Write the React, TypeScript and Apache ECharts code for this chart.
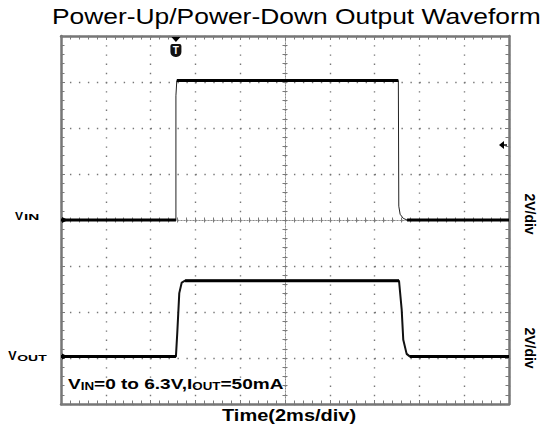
import React, { useEffect, useRef } from "react";
import * as echarts from "echarts";

// Horizontal: time in ms, 2 ms/div, screen centre = 0
const timeMin = -10;
const timeMax = 10;
const timeStep = 2;
// Vertical: divisions
const divMin = -4;
const divMax = 4;
const voltsPerDiv = 2;

// Channel 1: VIN (ground reference at 0 div)
const vinOffsetDiv = 0;
const vinTime = [-10, -4.87, -4.87, -4.83, 5.06, 5.08, 5.14, 5.28, 5.45, 10];
const vinVolt = [0, 0, 5.4, 6.06, 6.06, 0.6, 0.25, 0.07, 0, 0];

// Channel 2: VOUT (ground reference at -2.97 div)
const voutOffsetDiv = -2.97;
const voutTime = [-10, -4.87, -4.81, -4.72, -4.61, -4.46, 5.09, 5.21, 5.28, 5.43, 5.58, 10];
const voutVolt = [0, 0, 1.02, 2.76, 3.22, 3.3, 3.3, 2.03, 0.73, 0.12, 0, 0];

// Trigger
const trigTime = -4.87;
const trigLevelVolt = 3.26;

const titleText = "Power-Up/Power-Down Output Waveform";
const xAxisTitle = "Time(2ms/div)";
const scaleText = "2V/div";

const toDiv = (v: number, off: number) => off + v / voltsPerDiv;

const tracePoints = (t: number[], v: number[], off: number) =>
  t.map((ti, i) => [ti, toDiv(v[i], off)]);

const flatSegments = (t: number[], v: number[], off: number) => {
  const segs: number[][][] = [];
  for (let i = 0; i < t.length - 1; i++) {
    if (v[i] === v[i + 1]) {
      segs.push([
        [t[i], toDiv(v[i], off)],
        [t[i + 1], toDiv(v[i + 1], off)],
      ]);
    }
  }
  return segs;
};

const FRAME = "#767676";
const TICK = "#7a7a7a";
const GRID = "#777777";

const edgeAxis = (pos: string, split: boolean, gap: number, min: number, max: number, step: number) => ({
  type: "value",
  min,
  max,
  interval: step,
  position: pos,
  axisLine: { show: true, onZero: false, lineStyle: { color: FRAME, width: 2.5 } },
  axisTick: { show: true, inside: true, length: 4, lineStyle: { color: TICK, width: 1 } },
  minorTick: { show: true, splitNumber: 5, length: 3.5, lineStyle: { color: TICK, width: 1 } },
  axisLabel: { show: false },
  splitLine: { show: split, lineStyle: { color: GRID, width: 1.4, type: [1.4, gap] } },
  minorSplitLine: { show: false },
});

const centerAxis = (pos: string, inside: boolean, min: number, max: number, step: number) => ({
  type: "value",
  min,
  max,
  interval: step,
  position: pos,
  axisLine: { show: true, onZero: true, lineStyle: { color: "#8a8a8a", width: 1, type: [1, 2] } },
  axisTick: { show: true, inside, length: 2.5, lineStyle: { color: TICK, width: 1 } },
  minorTick: { show: true, splitNumber: 5, length: 2.5, lineStyle: { color: TICK, width: 1 } },
  axisLabel: { show: false },
  splitLine: { show: false },
});

export default function App() {
  const ref = useRef<HTMLDivElement>(null);
  useEffect(() => {
    const chart = echarts.init(ref.current!, undefined, { renderer: "svg" });
    const hGap = 448 / 50 - 1.4; // dots every minor division (horizontal lines)
    const vGap = 368 / 40 - 1.4; // dots every minor division (vertical lines)

    const series: any[] = [];
    series.push({
      type: "line",
      name: "VIN",
      data: tracePoints(vinTime, vinVolt, vinOffsetDiv),
      showSymbol: false,
      lineStyle: { color: "#222", width: 1 },
      z: 3,
    });
    flatSegments(vinTime, vinVolt, vinOffsetDiv).forEach((seg) =>
      series.push({ type: "line", data: seg, showSymbol: false, lineStyle: { color: "#000", width: 3 }, z: 4 })
    );
    series.push({
      type: "line",
      name: "VOUT",
      data: tracePoints(voutTime, voutVolt, voutOffsetDiv),
      showSymbol: false,
      lineStyle: { color: "#111", width: 2 },
      z: 3,
    });
    flatSegments(voutTime, voutVolt, voutOffsetDiv).forEach((seg) =>
      series.push({ type: "line", data: seg, showSymbol: false, lineStyle: { color: "#000", width: 3 }, z: 4 })
    );

    chart.setOption({
      animation: false,
      backgroundColor: "#fff",
      grid: { left: 61, top: 36, width: 448, height: 368 },
      xAxis: [
        edgeAxis("bottom", true, vGap, timeMin, timeMax, timeStep),
        edgeAxis("top", false, vGap, timeMin, timeMax, timeStep),
        centerAxis("bottom", true, timeMin, timeMax, timeStep),
        centerAxis("bottom", false, timeMin, timeMax, timeStep),
      ],
      yAxis: [
        edgeAxis("left", true, hGap, divMin, divMax, 1),
        edgeAxis("right", false, hGap, divMin, divMax, 1),
        centerAxis("left", true, divMin, divMax, 1),
        centerAxis("left", false, divMin, divMax, 1),
      ],
      series,
    });

    const px = (t: number, d: number) =>
      chart.convertToPixel({ xAxisIndex: 0, yAxisIndex: 0 }, [t, d]) as number[];
    const top = px(timeMin, divMax);
    const right = px(timeMax, divMax)[0];
    const left = top[0];
    const tx = px(trigTime, divMax)[0];
    const trigY = px(timeMax, toDiv(trigLevelVolt, vinOffsetDiv))[1];
    const vinY = px(timeMin, vinOffsetDiv)[1];
    const voutY = px(timeMin, voutOffsetDiv)[1];

    const txt = (text: string, x: number, y: number, size: number, weight: string, scaleX = 1, align = "left", extra: any = {}) => ({
      type: "text",
      x,
      y,
      scaleX,
      z: 10,
      style: {
        text,
        fontFamily: "Liberation Sans, Arial, sans-serif",
        fontSize: size,
        fontWeight: weight,
        fill: "#000",
        align,
        verticalAlign: "middle",
        textAlign: align,
        textVerticalAlign: "middle",
      },
      ...extra,
    });

    chart.setOption({
      graphic: [
        txt(titleText, 52, 16, 22, "normal", 1.2),
        txt(xAxisTitle, 222, 416, 16, "bold", 1.25),
        // channel labels
        txt("V", 15, vinY - 4, 11.5, "bold", 1.05),
        txt("IN", 24, vinY - 3, 8.5, "bold", 1.8),
        txt("V", 8.3, voutY - 1, 12.5, "bold", 1.0),
        txt("OUT", 17.3, voutY + 0.5, 8.8, "bold", 1.58),
        // scale labels
        txt(scaleText, 530, 214, 14, "bold", 1, "center", { rotation: -Math.PI / 2 }),
        txt(scaleText, 530, 348, 14, "bold", 1, "center", { rotation: -Math.PI / 2 }),
        // annotation
        {
          type: "text",
          x: 68,
          y: 384,
          scaleX: 1.27,
          z: 10,
          style: {
            text: "{a|V}{b|IN}{a|=0 to 6.3V,I}{b|OUT}{a|=50mA}",
            fontFamily: "Liberation Sans, Arial, sans-serif",
            fontWeight: "bold",
            fill: "#000",
            align: "left",
            verticalAlign: "middle",
            rich: {
              a: { fontSize: 15, fontWeight: "bold", fontFamily: "Liberation Sans, Arial, sans-serif", fill: "#000", verticalAlign: "bottom" },
              b: { fontSize: 10.5, fontWeight: "bold", fontFamily: "Liberation Sans, Arial, sans-serif", fill: "#000", verticalAlign: "bottom" },
            },
          },
        },
        // trigger marker (top)
        {
          type: "polygon",
          z: 10,
          shape: { points: [[tx - 4.5, top[1] + 1], [tx + 4.5, top[1] + 1], [tx, top[1] + 6]] },
          style: { fill: "#000" },
        },
        {
          type: "rect",
          z: 10,
          shape: { x: tx - 5.5, y: top[1] + 8, width: 11, height: 13, r: [2, 2, 5, 5] },
          style: { fill: "#111" },
        },
        {
          type: "text",
          x: tx,
          y: top[1] + 14.5,
          z: 11,
          style: {
            text: "T",
            fontFamily: "Liberation Sans, Arial, sans-serif",
            fontSize: 10,
            fontWeight: "bold",
            fill: "#fff",
            align: "center",
            verticalAlign: "middle",
            textAlign: "center",
            textVerticalAlign: "middle",
          },
        },
        // trigger level marker (right)
        {
          type: "polygon",
          z: 10,
          shape: { points: [[right - 10, trigY], [right - 5, trigY - 4], [right - 5, trigY + 4]] },
          style: { fill: "#000" },
        },
        {
          type: "line",
          z: 10,
          shape: { x1: right - 6, y1: trigY, x2: right - 2, y2: trigY },
          style: { stroke: "#000", lineWidth: 1.5 },
        },
        // ground markers (left)
        {
          type: "polygon",
          z: 10,
          shape: { points: [[left + 1, vinY - 3], [left + 7, vinY], [left + 1, vinY + 3]] },
          style: { fill: "#000" },
        },
        {
          type: "polygon",
          z: 10,
          shape: { points: [[left + 1, voutY - 3], [left + 7, voutY], [left + 1, voutY + 3]] },
          style: { fill: "#000" },
        },
      ],
    });
    return () => chart.dispose();
  }, []);
  return (
    <div
      ref={ref}
      style={{ position: "absolute", left: 0, top: 0, width: 546, height: 432, background: "#fff" }}
    />
  );
}
